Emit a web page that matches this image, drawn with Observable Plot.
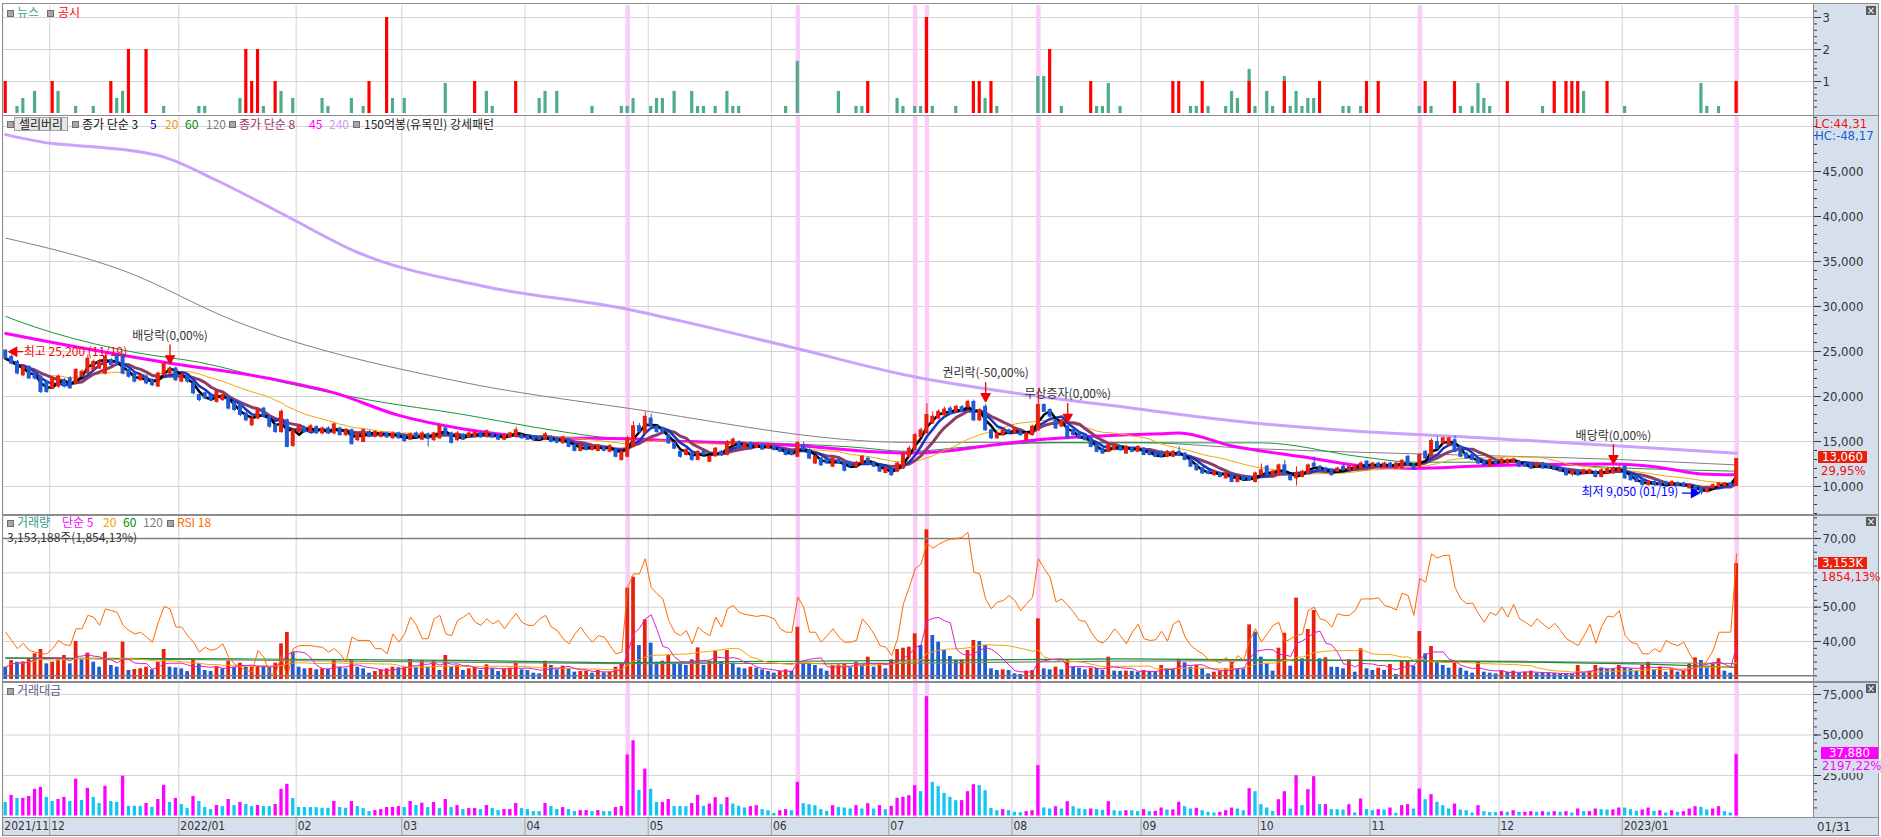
<!DOCTYPE html>
<html>
<head>
<meta charset="utf-8">
<script src="https://cdn.jsdelivr.net/npm/d3@7"></script>
<script src="https://cdn.jsdelivr.net/npm/@observablehq/plot@0.6"></script>
<style>
  body { margin: 0; background: #fff; }
  #chart { position: relative; width: 1881px; height: 837px; background: #fff; overflow: hidden;
           font-family: "Noto Sans CJK KR", "Noto Sans", sans-serif; font-size: 12px; }
  .abs { position: absolute; }
  .lbl { position: absolute; white-space: nowrap; line-height: 1; }
  .num { font-family: "Liberation Sans Narrow", "DejaVu Sans Condensed", "DejaVu Sans", sans-serif;
         font-stretch: condensed; font-size: 13px; }
  .sq { position: absolute; width: 5px; height: 5px; background: #a8a8a8; border: 1px solid #6e6e6e; }
  .box { position: absolute; height: 12px; line-height: 12px; color: #fff; text-align: center; white-space: nowrap; }
  .hl { position: absolute; background: #8c8c8c; }
  .cls { position: absolute; width: 10px; height: 9px; background: #5a5a5a; color: #fff; font-size: 10px;
         line-height: 9px; text-align: center; font-family: "DejaVu Sans", sans-serif; }
</style>
</head>
<body>
<div id="chart"></div>
<script>
// 셀리버리 일봉, 2021/11/19 ~ 2023/01/31 (296 거래일), index = 거래일 순번
const opens = [
  25100,24400,23850,22350,23300,22550,22200,21650,20900,21100,
  21800,22000,21450,22200,22550,22950,23100,22550,24050,24600,
  24600,22950,22550,21800,22200,21800,21100,22350,22550,23100,
  21650,22200,21450,20150,20350,20150,19400,19600,19950,19400,
  19200,18100,16800,17550,18650,17750,16800,16050,17350,14500,
  16050,16450,16050,16600,15900,16450,15900,16450,15700,16250,
  15150,14950,16050,15500,15500,15900,15350,15900,15700,15200,
  15900,15200,15800,15150,15350,16450,15900,15150,15700,15500,
  15500,15950,15500,15800,15700,15200,15450,15500,15700,15600,
  15500,15500,15200,15500,15350,14800,15200,14600,13950,14500,
  14050,13950,14400,13850,14050,12950,13300,14400,16700,15900,
  17550,16650,16450,15700,14800,13850,13500,13650,12950,13850,
  12750,13350,13850,13500,14600,14950,14300,14800,14300,14600,
  14200,14400,14200,13950,13850,13300,14600,14050,12550,13100,
  12950,12200,12950,12750,12650,12200,12550,13100,12650,12200,
  11500,11900,11650,12000,13300,14050,15500,15900,17000,17550,
  17900,18650,18300,18800,18800,19400,17350,18850,16250,15350,
  15700,16250,15900,16050,15150,15700,16250,19050,18500,17350,
  16650,16650,16250,15900,15700,15350,14600,14200,13850,14050,
  14400,13650,14200,13850,14200,13850,13650,13850,13300,13300,
  13850,13650,12950,12400,12000,11650,11250,11450,10900,11250,
  10500,11050,11050,10500,11250,12200,11250,11250,12350,11250,
  10900,11050,11450,12550,12200,12000,11800,11650,12200,11800,
  11800,12000,12750,12200,12550,12200,12550,12000,12000,13300,
  12350,12200,13850,13300,14950,14800,14600,15150,14400,13650,
  13500,12950,12750,12200,12750,12550,12550,12650,12750,12500,
  12500,12200,12550,12350,12200,12000,11800,11350,11700,11350,
  11450,11650,11050,11450,11450,11650,12200,11250,11050,10700,
  10150,10500,10450,10450,10150,10350,10350,9800,9950,9800,
  9400,9800,9950,10050,10350,10050
];
const highs = [
  25200,24600,24000,23500,23400,22700,22350,21800,22200,22400,
  22000,22200,23100,22950,24600,24050,24100,24700,24200,24800,
  24750,23100,22700,22550,22350,21950,22700,23800,23300,23300,
  22550,22350,21600,20300,20500,20300,20700,20300,20100,19550,
  19400,18300,17750,18650,18800,17900,16950,18500,17500,16450,
  16800,16600,16900,16750,16600,16650,17050,16600,16400,16400,
  16050,16400,16200,16200,16100,16050,16050,16050,15850,15950,
  16050,16100,15950,16050,16900,16600,16050,16100,15850,16200,
  16200,16100,16300,15950,15850,15850,16050,16600,15850,15750,
  15650,15650,16000,15650,15500,15600,15350,14750,14800,14650,
  14550,14650,14550,14650,14200,14000,15600,17200,17000,18300,
  18050,16800,16600,15850,14950,14000,14200,13800,14000,14000,
  13450,14350,14000,15100,15400,15100,14850,14950,14850,14750,
  14700,14550,14350,14100,14000,15000,14950,14200,13450,13250,
  13100,13250,13100,12900,12800,12800,13450,13250,12800,12350,
  12150,12050,12700,13850,14500,15900,16500,19200,18300,18500,
  18800,18900,19050,19000,19600,19600,18650,19100,16400,16050,
  16400,16400,16600,16200,16050,16800,20900,19200,18650,17500,
  17500,16800,16400,16050,15850,15500,14750,14350,14750,14750,
  14550,14550,14350,14550,14350,14000,13800,14000,14000,14000,
  14400,13800,13100,12550,12150,11800,11800,11600,11600,11400,
  11200,11200,11200,11600,12500,12350,11800,12500,12900,11400,
  12200,11800,12500,13300,12350,12150,11950,12150,12350,12350,
  12400,12750,12900,12700,12700,12700,12700,12700,13000,13450,
  12500,13650,14000,15300,15500,15500,15500,15600,14550,13800,
  13650,13100,12900,13100,12900,13150,13100,13150,12900,12650,
  12650,12700,12700,12500,12350,12150,11950,11800,11850,11950,
  11950,11800,12000,12050,12200,12300,12350,11400,11200,10850,
  10650,10650,10600,10600,10650,10500,10500,10300,10100,9900,
  9950,10300,10450,10450,10450,13060
];
const lows = [
  24050,23500,22400,22200,21900,21800,20300,20350,20800,20900,
  20950,20800,21300,22100,22400,22800,23000,22400,23300,23500,
  22400,22000,21500,21700,21300,21100,21000,22200,22400,21650,
  21500,21450,20150,19400,19650,19400,19250,19450,18500,18300,
  17750,17200,16650,17400,17600,16450,15900,15900,14300,14350,
  15900,15900,15950,15800,15750,15800,15750,15600,15550,14600,
  15000,14850,15400,15400,15400,15350,15250,15250,14900,15100,
  15350,15100,14400,15000,15200,15600,14700,15000,15150,15400,
  15400,15350,15400,15350,15100,15100,15350,15400,15250,15100,
  15050,15100,15100,14850,14750,14700,14300,13850,13850,13950,
  13950,13850,13850,13750,13150,12800,13200,14300,15900,15800,
  16450,15900,15750,14650,14100,13150,13400,12800,12850,13400,
  12650,13250,13400,13400,14500,14100,14200,14100,14200,14000,
  14100,13950,13750,13400,13400,13200,13950,13000,12450,12250,
  12450,12100,12450,11600,12150,12100,12450,12450,12100,11550,
  11400,11100,11550,11900,13200,13950,15400,15800,16900,17400,
  17800,18000,18200,18200,18650,17200,17200,16100,15200,15250,
  15600,15800,15800,15600,15050,15600,16150,18200,17650,16300,
  16550,15200,15600,15250,15050,14300,13750,13550,13750,13950,
  13950,13550,13750,13750,13400,13400,13200,13200,13200,13200,
  13400,12850,12100,11700,11350,11300,11150,10950,10800,10400,
  10400,10600,10600,10400,11150,11150,11150,11150,11150,10600,
  10050,10950,11350,12100,11700,11550,11150,11550,11700,11700,
  11700,11900,12100,12100,12100,12100,12000,11900,11900,12250,
  11800,12100,13000,13200,14100,14700,14500,13750,13200,13000,
  12850,12450,12250,12100,12400,12450,12450,12550,12100,12100,
  11900,12100,11900,11900,11800,11550,11150,11100,11150,11250,
  11350,10950,10950,11350,11350,11550,10800,10600,10400,10050,
  10050,10050,10050,10050,10050,9950,9850,9700,9300,9050,
  9300,9700,9850,9950,9950,10000
];
const closes = [
  24200,23650,22550,23300,22000,22000,20500,20500,22000,22200,
  21100,20900,22950,22750,24200,23850,23850,24400,23500,23650,
  22550,22200,21650,22350,21450,21250,22550,23650,23100,21800,
  22350,21650,20350,19600,19800,19600,20500,20150,18650,18500,
  17950,17350,17550,18500,17750,16650,16050,18300,14400,16250,
  16600,16050,16700,15900,16450,15900,16900,15700,16250,14700,
  15900,16250,15500,16050,15950,15450,15900,15350,15050,15800,
  15450,15900,15300,15900,16700,15700,14850,15900,15250,15900,
  16000,15450,16150,15450,15200,15700,15900,16250,15350,15200,
  15150,15200,15800,14950,14850,15450,14400,13950,14600,14050,
  14400,14500,13950,14500,13300,13850,15350,16700,16100,17750,
  16650,16050,15900,14800,14200,13300,14050,12950,13850,13500,
  13300,14200,13500,14950,15200,14200,14700,14200,14700,14100,
  14550,14050,13850,13500,13500,14850,14050,13100,13300,12350,
  12550,13100,12550,11750,12250,12650,13300,12550,12200,11650,
  12000,11250,12550,13650,14200,15700,16250,17950,17750,18300,
  18550,18100,18850,18300,19400,17350,18500,16250,15350,15900,
  16250,15900,16450,15700,15900,16650,19050,18300,17750,16450,
  17350,15350,15700,15350,15150,14400,13850,13650,14600,14600,
  14050,14400,13850,14400,13500,13500,13300,13300,13850,13850,
  13500,12950,12200,11800,11450,11400,11650,11050,11450,10500,
  11050,10700,10700,11450,11800,11250,11650,12350,11250,10700,
  11450,11650,12350,12200,11800,11650,11250,12000,11800,12200,
  12250,12550,12200,12550,12200,12550,12100,12550,12850,12350,
  11900,13500,13100,15050,14200,15350,15350,13850,13300,13100,
  12950,12550,12350,12950,12500,13000,12950,13000,12200,12200,
  12000,12550,12000,12000,11900,11650,11250,11650,11250,11800,
  11800,11050,11800,11900,12000,12000,10900,10700,10500,10150,
  10500,10150,10150,10150,10500,10050,9950,10150,9400,9300,
  9800,10150,10350,10350,10050,13060
];
// 거래량 (천주)
const volumes = [
  335,516,471,480,562,698,815,426,471,535,
  652,426,1033,535,716,471,335,743,381,335,
  1015,245,272,290,335,263,471,815,335,317,
  290,217,562,426,245,217,335,290,498,335,
  444,335,340,345,335,330,444,969,1277,743,
  335,290,300,263,290,280,516,335,290,516,
  335,290,172,217,263,290,335,320,340,544,
  335,516,335,516,245,652,335,381,245,290,
  335,245,399,290,217,290,308,444,263,245,
  172,154,498,381,263,362,290,199,217,227,
  172,245,181,199,335,426,2482,2781,924,1622,
  988,471,498,652,426,408,381,535,861,381,
  498,770,471,788,444,317,290,335,308,263,
  217,172,217,263,227,1422,426,408,381,290,
  227,381,399,426,317,471,381,607,335,426,
  290,535,815,852,879,1241,924,4068,1196,1015,
  788,625,516,530,788,1060,1033,924,290,245,
  263,245,154,136,227,245,1649,290,263,335,
  263,544,335,308,263,308,300,245,607,227,
  220,230,225,199,245,217,210,381,290,285,
  544,453,335,381,290,154,199,227,290,471,
  290,285,1486,1287,607,426,227,852,1259,362,
  2211,562,1359,1875,562,589,335,330,290,535,
  199,834,290,245,308,245,408,136,498,505,
  362,1305,698,897,471,381,308,471,308,227,
  172,471,199,172,154,227,199,227,172,199,
  227,172,170,165,160,155,150,145,381,172,
  227,381,317,290,285,381,317,290,227,381,
  471,263,335,199,290,199,227,426,589,516,
  317,426,562,227,172,3153
];
// 거래대금 (백만원)
const values = [
  8330,12710,10830,10900,12080,16460,17710,11460,8960,10210,
  11460,8960,22710,9580,17080,11460,7710,18330,8960,8330,
  24580,6040,6000,5950,7710,5420,10210,18960,8330,10830,
  7080,4580,12080,8960,5210,3960,6460,5830,10210,6460,
  8330,7080,5830,6460,5830,5800,7080,16460,19580,10830,
  5210,5210,5200,5150,4790,4790,8960,5210,4790,8960,
  5830,4580,2710,3330,3960,5210,5300,5830,5210,8960,
  6460,7920,5210,8330,4580,10210,5210,6460,3960,4580,
  4600,3960,6460,4580,3330,3960,4000,7710,4580,3960,
  2710,2700,7710,5830,3960,5210,3960,2710,3330,3350,
  2710,3330,2710,2700,5210,5830,37700,46450,15830,28950,
  16460,8330,8400,10210,5830,5800,5750,7710,12710,5970,
  7410,11320,7000,11320,7410,5970,4940,5760,6380,3910,
  3290,1650,3290,3910,3290,20790,7610,7000,6380,3910,
  2880,6380,5350,4940,4320,6380,4320,7610,4320,6380,
  3910,5970,10910,11500,12550,18730,15020,73680,20790,18110,
  13990,11520,9470,9500,15020,19350,18730,15640,4730,3290,
  3910,3290,2260,2060,2680,3290,31080,4940,4320,5760,
  4320,8850,5760,4320,3910,4320,3910,3500,8850,3290,
  2880,3290,3250,2680,3910,2680,2880,4940,3700,3750,
  8440,5760,4320,4730,3290,2260,1850,2260,3290,4940,
  4320,3290,16880,15020,7000,4940,2880,10080,15020,4320,
  24900,6380,16260,24280,7000,7050,3910,3900,3700,7000,
  1850,10500,3910,3290,3910,3700,4940,1650,6380,7000,
  4320,16670,10080,13170,8440,6380,4320,7410,3700,3290,
  1850,6380,2680,2060,2050,2680,2260,3290,2260,2280,
  2680,2260,2680,2260,2680,2260,2680,1850,4320,2680,
  2700,4320,3910,3700,3750,4940,4900,3910,2880,3700,
  4940,2880,3290,1850,3290,2260,2680,4320,5760,5350,
  3700,4320,5760,2680,1850,37880
];
const rsi18 = [
  42.7,40.3,37.9,39.5,37.4,36.9,36.4,36.4,37.9,40.3,
  39.1,38.8,43.7,43.7,47.6,47.1,44.7,49.5,49.0,48.5,
  44.7,43.2,42.2,42.7,41.3,39.8,45.6,50.2,49.5,44.2,
  44.2,41.7,39.8,36.9,38.3,37.4,37.9,39.3,35.4,33.5,
  32.5,31.6,31.1,37.4,35.4,30.6,30.6,35.9,29.1,37.9,
  38.8,38.8,38.8,38.5,38.3,36.9,37.9,36.4,34.0,41.3,
  40.3,40.3,40.3,37.9,37.9,36.4,42.2,39.8,42.2,47.1,
  44.7,40.8,40.8,46.6,47.6,42.2,41.7,46.1,47.1,48.3,
  45.6,44.7,46.6,45.1,46.1,43.7,46.1,48.1,45.6,44.7,
  44.7,46.6,47.6,44.2,43.2,40.8,39.3,42.2,44.2,41.7,
  39.8,41.7,41.3,38.8,36.4,36.9,55.8,59.7,59.7,64.1,
  55.8,53.9,52.4,46.1,42.7,41.7,43.2,39.3,44.2,42.7,
  41.7,47.1,44.2,49.5,50.5,48.5,47.9,47.6,47.3,47.6,
  47.3,46.6,43.7,42.7,42.7,52.9,50.0,42.7,42.7,39.8,
  41.7,43.7,41.3,39.8,39.8,40.3,46.6,44.7,42.2,38.8,
  38.3,35.9,40.8,51.0,55.8,61.2,62.6,68.6,67.2,68.3,
  69.2,69.8,69.9,70.4,71.8,60.2,59.7,52.4,49.5,51.5,
  51.9,53.4,51.9,49.0,51.0,52.9,64.1,61.2,58.7,51.5,
  52.4,50.5,48.5,46.1,45.9,42.7,40.3,39.5,41.3,43.7,
  41.7,39.3,42.7,45.0,40.8,40.3,40.5,43.0,40.1,45.1,
  46.1,41.3,38.8,37.4,36.4,34.7,34.5,33.7,35.4,33.0,
  35.9,34.5,40.3,43.7,39.8,42.2,44.7,45.6,39.8,40.8,
  41.7,42.2,49.0,50.0,46.6,46.1,44.2,48.1,47.6,47.6,
  49.0,52.4,52.4,52.4,52.7,50.5,50.0,49.2,54.1,53.4,
  47.6,58.3,57.3,65.5,64.3,65.0,65.2,55.8,52.4,51.0,
  51.2,48.1,45.6,48.5,47.6,50.0,47.1,50.8,46.6,45.6,
  44.4,46.6,45.1,43.7,45.3,43.2,40.8,39.8,38.8,41.7,
  45.0,39.5,44.4,47.4,47.1,49.0,41.7,39.8,39.3,36.4,
  36.4,37.9,36.9,40.3,39.3,38.8,39.8,36.4,33.5,32.5,
  34.5,37.4,42.7,42.7,42.7,65.5
];

// 장기 이동평균
const ma45Idx = [0, 8, 27, 45, 56, 67, 78, 93, 106, 116, 133, 154, 158, 167, 178, 186, 198, 200, 209, 221, 231, 240, 252, 274, 281, 289, 295];
const ma45Val = [27000, 26000, 23800, 22000, 20400, 17900, 16400, 15400, 15300, 15000, 14600, 13700, 13800, 14500, 15300, 15600, 15900, 15950, 14500, 13300, 12300, 12000, 12300, 12500, 12200, 11400, 11300];
const ma60Idx = [0, 2, 8, 22, 33, 47, 62, 78, 90, 105, 127, 144, 154, 164, 178, 214, 231, 240, 257, 274, 295];
const ma60Val = [28900, 28400, 27100, 24900, 23800, 21600, 19600, 18000, 16600, 15300, 14900, 14400, 13900, 14400, 14850, 14850, 13300, 12700, 12700, 12100, 11700];
const ma120Idx = [0, 20, 39, 77, 106, 154, 192, 213, 231, 254, 275, 285, 295];
const ma120Val = [37600, 34000, 28400, 21700, 18700, 14900, 14900, 14200, 13800, 13400, 13000, 12700, 12400];
const ma240Idx = [0, 8, 16, 27, 36, 48, 60, 81, 106, 115, 135, 154, 175, 192, 209, 231, 252, 275, 295];
const ma240Val = [49100, 48100, 47700, 46600, 44000, 40000, 36000, 32300, 29700, 28400, 25300, 22300, 20100, 18700, 17300, 16100, 15400, 14500, 13700];
const vol60Idx = [0, 40, 77, 105, 120, 155, 190, 230, 260, 280, 295];
const vol60Val = [580, 560, 520, 450, 480, 520, 560, 520, 470, 420, 330];
const vol120Idx = [0, 77, 105, 150, 190, 230, 260, 295];
const vol120Val = [590, 470, 430, 440, 500, 520, 490, 435];

// 뉴스 / 공시 건수
const newsIdx = [2,3,5,9,12,15,19,20,27,33,34,40,44,47,49,54,55,59,61,66,68,75,82,83,91,92,94,100,105,106,107,110,111,112,114,117,118,119,121,123,124,125,133,135,142,145,146,152,153,155,156,158,162,167,169,176,177,180,186,187,188,190,202,203,205,208,209,210,212,213,215,216,218,219,220,221,222,223,228,229,231,241,243,248,250,251,252,253,262,269,276,289,290,292];
const newsVal = [.22,.47,.69,.69,.22,.22,.47,.69,.22,.22,.22,.47,.22,.69,.47,.47,.22,.47,.22,.47,.47,.94,.69,.22,.47,.69,.69,.22,.22,.22,.47,.22,.47,.47,.69,.69,.22,.22,.22,.69,.22,.22,.22,1.63,.69,.22,.22,.47,.22,.22,.22,.22,.22,.47,.22,1.16,1.16,.22,.22,.22,.94,.22,.22,.22,.22,.22,.69,.47,1.38,.22,.69,.22,1.16,.22,.69,.22,.47,.47,.22,.22,.22,.22,.22,.22,.22,.94,.47,.22,.22,.69,.22,.94,.22,.22];
const discIdx = [0,8,18,21,24,41,42,43,46,62,65,80,87,147,157,165,166,168,178,185,199,200,204,212,218,224,232,234,242,247,256,264,266,267,268,273,295];
const discVal = [1,1,1,2,2,2,1,2,1,1,3,1,1,1,3,1,1,1,2,1,1,1,1,1,1,1,1,1,1,1,1,1,1,1,1,1,1];

const pinkIdx = [106, 135, 155, 157, 176, 241, 295];
const monthIdx = [0, 8, 30, 50, 68, 89, 110, 131, 151, 172, 194, 214, 233, 255, 276];
const monthLabels = ["2021/11","12","2022/01","02","03","04","05","06","07","08","09","10","11","12","2023/01"];
const events = [
  {i: 28, label: "배당락(0,00%)"},
  {i: 167, label: "권리락(-50,00%)"},
  {i: 181, label: "무상증자(0,00%)"},
  {i: 274, label: "배당락(0,00%)"}
];
const hiIdx = 0, loIdx = 289;

// ---------------------------------------------------------------
const W = 1881, ML = 2, MR = 68;
const XD = [-0.55, 308.1];
const RED = "#e8200e", BLUE = "#1f5bd3", MAG = "#ff00ff", CYAN = "#12c6f2";
const GRID = "#d4d4d4", PINK = "#f9cdf8";
const NUMFONT = '"Liberation Sans Narrow","DejaVu Sans Condensed","DejaVu Sans",sans-serif';
const KFONT = '"Noto Sans CJK KR","Noto Sans",sans-serif';
const chart = document.getElementById("chart");

const bars = closes.map((c, i) => ({
  i, o: opens[i], h: highs[i], l: lows[i], c,
  vol: volumes[i], val: values[i], rsi: rsi18[i]
}));
const pts = (idx, val) => idx.map((i, k) => ({i, v: val[k]}));
const news = pts(newsIdx, newsVal), disc = pts(discIdx, discVal);

function lab(html, left, top, css = "", cls = "lbl") {
  const d = document.createElement("div");
  d.className = cls;
  d.style.cssText += `left:${left}px;top:${top}px;` + css;
  d.innerHTML = html;
  chart.appendChild(d);
  return d;
}
function hline(top, left = 2, width = 1876, h = 1) {
  lab("", left, top, `width:${width}px;height:${h}px`, "hl");
}
function sq(left, cy) { lab("", left, cy - 3, "", "sq"); }

function put(svg, top) {
  svg.style.position = "absolute";
  svg.style.left = "0px";
  svg.style.top = top + "px";
  chart.appendChild(svg);
}
const plotStyle = {background: "transparent", fontFamily: NUMFONT, fontStretch: "condensed",
  fontSize: "13px", color: "#333", overflow: "visible"};
function panel(height, yDomain, marks, mt = 0, mb = 0) {
  return Plot.plot({
    width: W, height, marginLeft: ML, marginRight: MR, marginTop: mt, marginBottom: mb,
    x: {domain: XD, axis: null},
    y: {domain: yDomain, axis: null},
    color: {type: "identity"},
    style: plotStyle,
    marks
  });
}
const monthRules = () => Plot.ruleX(monthIdx, {x: d => d - 0.5, stroke: GRID});
const pinkRules = () => Plot.ruleX(pinkIdx, {x: d => d, stroke: PINK, strokeWidth: 4.5});
function rightAxis(major, minor, fmt, dom) {
  const inDom = v => v >= dom[0] && v <= dom[1];
  return [
    Plot.axisY(minor.filter(inDom), {anchor: "right", tickSize: 3, tickFormat: () => "", label: null}),
    Plot.axisY(major, {anchor: "right", tickSize: 7, tickPadding: 2, tickFormat: fmt, label: null})
  ];
}
const comma = d3.format(",");
const dec2 = d => d.toFixed(2).replace(".", ",");

// backgrounds: right scale area and date strip
lab("", 1813, 4, "width:65px;height:813px;background:#d6e0ed", "abs");
lab("", 2, 817, "width:1876px;height:18px;background:#d6e0ed", "abs");

// ---------------- 뉴스 / 공시 ----------------
const newsDom = [0, 3.375];
put(panel(112, newsDom, [
  Plot.ruleY([1, 2, 3], {stroke: GRID}),
  monthRules(), pinkRules(),
  Plot.rect(news, {x1: d => d.i - 0.27, x2: d => d.i + 0.27, y1: 0, y2: "v", fill: "#4dac8a"}),
  Plot.rect(disc, {x1: d => d.i - 0.27, x2: d => d.i + 0.27, y1: 0, y2: "v", fill: "#ff0000"}),
  ...rightAxis([1, 2, 3], d3.range(0.2, 3.35, 0.2), d => d, newsDom)
], 2, 2), 3);

// ---------------- 가격 ----------------
const priceDom = [6889, 51222];
const arrowDown = {draw(ctx, l) {
  ctx.moveTo(0, 0); ctx.lineTo(0, -l + 6);
  ctx.moveTo(-4.5, -l + 8); ctx.lineTo(4.5, -l + 8); ctx.lineTo(0, -l); ctx.closePath();
}};
put(panel(399, priceDom, [
  Plot.ruleY(d3.range(10000, 50001, 5000), {stroke: GRID}),
  monthRules(), pinkRules(),
  Plot.line(pts(ma240Idx, ma240Val), {x: "i", y: "v", stroke: "#c9a2fb", strokeWidth: 3, curve: "monotone-x"}),
  Plot.line(pts(ma120Idx, ma120Val), {x: "i", y: "v", stroke: "#808080", strokeWidth: 1, curve: "monotone-x"}),
  Plot.line(pts(ma60Idx, ma60Val), {x: "i", y: "v", stroke: "#16963a", strokeWidth: 1, curve: "monotone-x"}),
  Plot.line(pts(ma45Idx, ma45Val), {x: "i", y: "v", stroke: "#ff00ff", strokeWidth: 3, curve: "monotone-x"}),
  Plot.lineY(bars, Plot.windowY({k: 20, anchor: "end"}, {x: "i", y: "c", stroke: "#f0a800", strokeWidth: 1})),
  Plot.lineY(bars, Plot.windowY({k: 8, anchor: "end"}, {x: "i", y: "c", stroke: "#8e3b68", strokeWidth: 3})),
  Plot.lineY(bars, Plot.windowY({k: 5, anchor: "end"}, {x: "i", y: "c", stroke: "#1438c4", strokeWidth: 2.5})),
  Plot.lineY(bars, Plot.windowY({k: 3, anchor: "end"}, {x: "i", y: "c", stroke: "#000000", strokeWidth: 2.5})),
  Plot.ruleX(bars, {x: "i", y1: "l", y2: "h", stroke: d => d.c >= d.o ? RED : BLUE, strokeWidth: 1}),
  Plot.rect(bars, {x1: d => d.i - 0.34, x2: d => d.i + 0.34, y1: "o", y2: "c",
    fill: d => d.c >= d.o ? RED : BLUE, insetTop: -0.5, insetBottom: -0.5}),
  Plot.vector(events, {x: "i", y: d => highs[d.i], length: 19, rotate: 180, anchor: "end", dy: -3,
    shape: arrowDown, stroke: "#f00000", fill: "#f00000", strokeWidth: 1.3}),
  Plot.text(events, {x: "i", y: d => highs[d.i], text: "label", dy: -31, fill: "#333",
    fontFamily: KFONT, fontSize: 12}),
  Plot.vector([hiIdx], {x: d => d, y: d => highs[d], length: 14, rotate: 270, anchor: "end", dx: 3, dy: 2,
    shape: arrowDown, stroke: "#f00000", fill: "#f00000", strokeWidth: 1.3}),
  Plot.text([hiIdx], {x: d => d, y: d => highs[d], text: d => `최고 ${comma(highs[d])} (11/19)`,
    textAnchor: "start", dx: 18, dy: 2, fill: "#ff0000", fontFamily: KFONT, fontSize: 12}),
  Plot.vector([loIdx], {x: d => d, y: d => lows[d], length: 17, rotate: 90, anchor: "end", dx: -2, dy: -2,
    shape: arrowDown, stroke: "#0000ff", fill: "#0000ff", strokeWidth: 1.3}),
  Plot.text([loIdx], {x: d => d, y: d => lows[d], text: d => `최저 ${comma(lows[d])} (01/19)`,
    textAnchor: "end", dx: -23, dy: -3, fill: "#0000ff", fontFamily: KFONT, fontSize: 12}),
  ...rightAxis(d3.range(10000, 45001, 5000), d3.range(7000, 51001, 1000), comma, priceDom)
]), 115);

// ---------------- 거래량 + RSI ----------------
const rsiDom = [28.34, 76.99];
const volDom = [-54, 4485];
put(panel(167, rsiDom, [
  Plot.ruleY([40, 50, 60], {stroke: GRID}),
  monthRules(), pinkRules()
]), 514);
put(panel(167, volDom, [
  Plot.rect(bars, {x1: d => d.i - 0.32, x2: d => d.i + 0.32, y1: 0, y2: "vol",
    fill: d => d.i > 0 && d.vol > volumes[d.i - 1] ? RED : BLUE}),
  Plot.line(pts(vol120Idx, vol120Val), {x: "i", y: "v", stroke: "#808080", strokeWidth: 1.2}),
  Plot.line(pts(vol60Idx, vol60Val), {x: "i", y: "v", stroke: "#13902f", strokeWidth: 1.2}),
  Plot.lineY(bars, Plot.windowY({k: 20, anchor: "end"}, {x: "i", y: "vol", stroke: "#f0a800", strokeWidth: 1})),
  Plot.lineY(bars, Plot.windowY({k: 5, anchor: "end"}, {x: "i", y: "vol", stroke: "#e01cc8", strokeWidth: 1}))
]), 514);
put(panel(167, rsiDom, [
  Plot.ruleY([30, 70], {stroke: "#7f7f7f", strokeWidth: 1.5}),
  Plot.line(bars, {x: "i", y: "rsi", stroke: "#ff6a00", strokeWidth: 1}),
  ...rightAxis([40, 50, 70], d3.range(30, 77, 2), dec2, rsiDom)
]), 514);

// ---------------- 거래대금 ----------------
const valDom = [-926, 83025];
put(panel(136, valDom, [
  Plot.ruleY([25000, 50000, 75000], {stroke: GRID}),
  monthRules(), pinkRules(),
  Plot.rect(bars, {x1: d => d.i - 0.28, x2: d => d.i + 0.28, y1: 0, y2: "val",
    fill: d => d.i > 0 && d.val > values[d.i - 1] ? MAG : CYAN}),
  ...rightAxis([25000, 50000, 75000], d3.range(5000, 81000, 5000), comma, valDom)
]), 681);

// ---------------- 날짜 축 ----------------
put(Plot.plot({
  width: W, height: 18, marginLeft: ML, marginRight: MR, marginTop: 0, marginBottom: 0,
  x: {domain: XD, axis: null},
  style: {...plotStyle, fontSize: "12px"},
  marks: [
    Plot.ruleX(monthIdx, {x: d => d - 0.5, stroke: "#a0a0a0"}),
    Plot.text(monthIdx, {x: d => d - 0.5, text: (d, k) => monthLabels[k], textAnchor: "start", dx: 1.5,
      frameAnchor: "middle", fill: "#333"})
  ]
}), 817);

// ---------------- 테두리 ----------------
hline(3); hline(115); hline(514, 2, 1876, 2); hline(681, 2, 1876, 2); hline(817); hline(835);
lab("", 2, 3, "width:1px;height:833px", "hl");
lab("", 1813, 3, "width:1px;height:814px", "hl");
lab("", 1878, 3, "width:1px;height:833px", "hl");

// ---------------- 범례 ----------------
sq(7, 13);
lab("뉴스", 17, 6, "color:#3fa383");
sq(47, 13);
lab("공시", 58, 6, "color:#ff0000");

sq(7, 124);
lab("셀리버리", 14, 117, "width:52px;height:12px;line-height:12px;text-align:center;background:#e6e6e6;border:1px solid #a0a0a0;color:#222");
sq(72, 124);
lab("종가 단순 3", 82, 118, "color:#111");
lab("5", 150, 118, "color:#0000c8");
lab("20", 165, 118, "color:#f0a000");
lab("60", 185, 118, "color:#008c00");
lab("120", 206, 118, "color:#808080");
sq(229, 124);
lab("종가 단순 8", 239, 118, "color:#993366");
lab("45", 309, 118, "color:#ff00ff");
lab("240", 329, 118, "color:#c8a0f0");
sq(353, 124);
lab("150억봉(유목민) 강세패턴", 364, 118, "color:#222");

sq(7, 523);
lab("거래량", 17, 516, "color:#2f9a8c");
lab("단순 5", 62, 516, "color:#ff00ff");
lab("20", 103, 516, "color:#f0a000");
lab("60", 123, 516, "color:#008c00");
lab("120", 143, 516, "color:#808080");
sq(167, 523);
lab("RSI 18", 177, 516, "color:#ff6a00");
lab("3,153,188주(1,854,13%)", 7, 531, "color:#333");

sq(7, 691);
lab("거래대금", 17, 684, "color:#5b5b8f");

// ---------------- 우측 값 표시 ----------------
lab("LC:44,31", 1815, 117, "color:#ee1111", "lbl num");
lab("HC:-48,17", 1815, 129, "color:#1060e0", "lbl num");
lab(comma(closes[closes.length - 1]), 1818, 451, "width:49px;background:#e8200e", "box num");
lab("29,95%", 1821, 464, "color:#ee1111", "lbl num");
lab("3,153K", 1818, 557, "width:49px;background:#e8200e", "box num");
lab("1854,13%", 1821, 570, "color:#ee1111", "lbl num");
lab(comma(values[values.length - 1]), 1821, 747, "width:57px;background:#ff00ff", "box num");
lab("2197,22%", 1822, 759, "color:#ff00ff;background:#d6e0ed;padding-bottom:1px", "lbl num");
lab("01/31", 1817, 820, "color:#333", "lbl num");
for (const t of [6, 517, 684]) lab("×", 1866, t, "", "cls");
</script>
</body>
</html>
